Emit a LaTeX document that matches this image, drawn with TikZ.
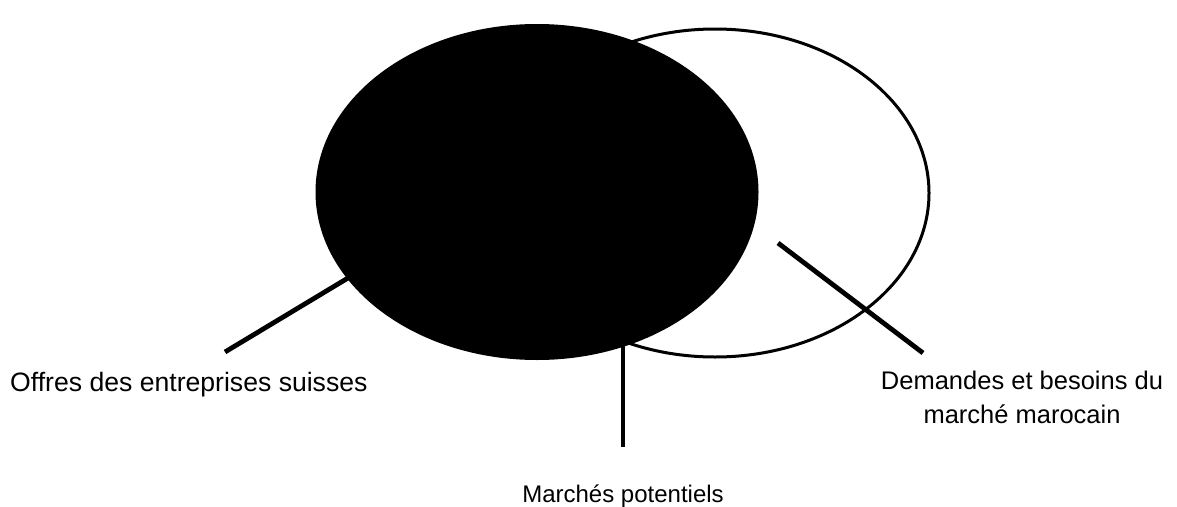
\documentclass[tikz,border=0pt]{standalone}
\usepackage{fontspec}
\setmainfont{Liberation Sans}
\usetikzlibrary{shapes.geometric}
\begin{document}
\begin{tikzpicture}[x=1pt,y=-1pt,
  setshape/.style={ellipse, inner sep=0pt, outer sep=0pt},
  pointer/.style={line width=4.8pt, black},
  lbl/.style={inner sep=0pt, font=\fontsize{25.5}{34}\selectfont, align=center}]
\useasboundingbox (0,0) rectangle (1177,506);
% white set: demandes du marche marocain
\node[setshape, draw=black, line width=3pt, fill=white,
      minimum width=428pt, minimum height=328pt] (demande) at (715,193) {};
% black set: offres suisses
\node[setshape, fill=black, minimum width=443pt, minimum height=336pt] (offre) at (537,192) {};
% labels
\node[lbl, font=\fontsize{26.6}{34}\selectfont, anchor=base west] (toffre) at (10,391) {Offres des entreprises suisses};
\node[lbl, font=\fontsize{24}{34}\selectfont, anchor=base] (tmarche) at (623,502) {Marchés potentiels};
\node[lbl, anchor=center] (tdemande) at (1022,397) {Demandes et besoins du\\marché marocain};
% pointer ends
\coordinate (p1a) at (225,352);
\coordinate (p1b) at (348,278);
\coordinate (p2a) at (623,345);
\coordinate (p2b) at (623,447);
\coordinate (p3a) at (778,243);
\coordinate (p3b) at (923,353);
\draw[pointer] (p1a) -- (p1b);
\draw[pointer] (p2a) -- (p2b);
\draw[pointer] (p3a) -- (p3b);
\end{tikzpicture}
\end{document}
